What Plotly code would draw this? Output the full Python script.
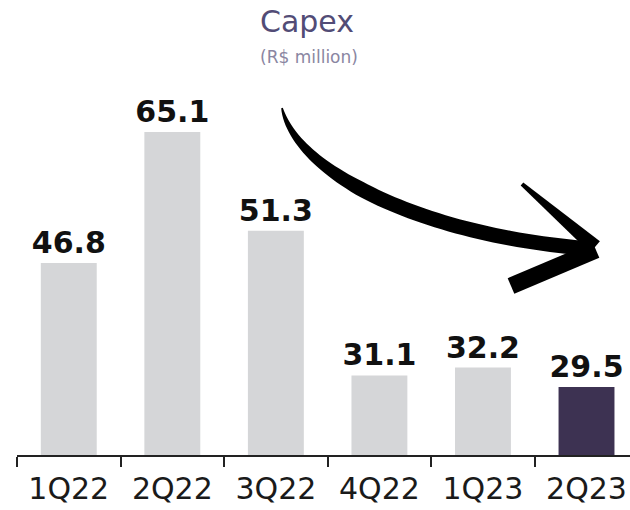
import numpy as np
import plotly.graph_objects as go

# Quarterly capex, R$ million
quarters = ["1Q22", "2Q22", "3Q22", "4Q22", "1Q23", "2Q23"]
capex = [46.8, 65.1, 51.3, 31.1, 32.2, 29.5]
bar_colors = ["#d5d6d8", "#d5d6d8", "#d5d6d8", "#d5d6d8", "#d5d6d8", "#3d3252"]

W, H = 630, 510
ML, MR, MT, MB = 17, 0, 0, 55
PW, PH = W - ML - MR, H - MT - MB

fig = go.Figure(
    go.Bar(
        x=quarters,
        y=capex,
        marker=dict(color=bar_colors, line=dict(width=0)),
        text=[f"{v:.1f}" for v in capex],
        texttemplate="<b>%{text}</b>",
        textposition="outside",
        constraintext="none",
        textfont=dict(family="DejaVu Sans", size=30, color="#111111"),
        cliponaxis=False,
        hoverinfo="skip",
    )
)


def px(x, y):
    """Pixel position -> paper coordinates of the plot area."""
    return (x - ML) / PW, 1 - (y - MT) / PH


def poly_path(points):
    pts = [px(x, y) for x, y in points]
    return "M " + " L ".join(f"{a:.5f},{b:.5f}" for a, b in pts) + " Z"


# Curved brush-stroke arrow pointing down-right
P = np.array([[282, 108], [296, 172], [420, 236], [594, 249]], dtype=float)
t = np.linspace(0, 1, 60)
curve = ((1 - t) ** 3)[:, None] * P[0] + (3 * (1 - t) ** 2 * t)[:, None] * P[1] \
    + (3 * (1 - t) * t ** 2)[:, None] * P[2] + (t ** 3)[:, None] * P[3]
deriv = (3 * (1 - t) ** 2)[:, None] * (P[1] - P[0]) + (6 * (1 - t) * t)[:, None] * (P[2] - P[1]) \
    + (3 * t ** 2)[:, None] * (P[3] - P[2])
normal = np.stack([-deriv[:, 1], deriv[:, 0]], axis=1)
normal /= np.linalg.norm(normal, axis=1)[:, None]
half_w = 0.8 + 6.6 * np.clip(t / 0.45, 0, 1) ** 0.8
left = curve + normal * half_w[:, None]
right = curve - normal * half_w[:, None]
body = list(map(tuple, left)) + list(map(tuple, right[::-1]))

tip = np.array([598.0, 249.0])


def arm(start, end, w0, w1):
    d = end - start
    n = np.array([-d[1], d[0]]) / np.linalg.norm(d)
    return [tuple(start + n * w0), tuple(end + n * w1), tuple(end - n * w1), tuple(start - n * w0)]


upper = arm(np.array([522.0, 184.0]), tip + np.array([-3.0, -2.0]), 2.0, 7.5)
lower = arm(tip + np.array([-2.0, 1.0]), np.array([511.0, 286.0]), 8.5, 8.5)

for shape_pts in (body, upper, lower):
    fig.add_shape(
        type="path",
        path=poly_path(shape_pts),
        xref="paper",
        yref="paper",
        fillcolor="#000000",
        line=dict(width=0),
        layer="above",
    )

fig.add_annotation(
    text="Capex", xref="paper", yref="paper",
    x=px(307, 0)[0], y=px(0, 21)[1], xanchor="center", yanchor="middle",
    showarrow=False, font=dict(family="DejaVu Sans", size=30, color="#524c76"),
)
fig.add_annotation(
    text="(R$ million)", xref="paper", yref="paper",
    x=px(309, 0)[0], y=px(0, 57)[1], xanchor="center", yanchor="middle",
    showarrow=False, font=dict(family="DejaVu Sans", size=17, color="#8a86a2"),
)

fig.update_layout(
    width=W,
    height=H,
    margin=dict(l=ML, r=MR, t=MT, b=MB),
    paper_bgcolor="white",
    plot_bgcolor="white",
    bargap=0.46,
    showlegend=False,
    xaxis=dict(
        type="category",
        range=[-0.5, 5.42],
        showline=True,
        linecolor="#222222",
        linewidth=2,
        ticks="outside",
        tickson="boundaries",
        ticklen=10,
        tickwidth=2,
        tickcolor="#222222",
        ticklabelstandoff=6,
        tickfont=dict(family="DejaVu Sans", size=30, color="#1a1a1a"),
        showgrid=False,
        zeroline=False,
        fixedrange=True,
    ),
    yaxis=dict(
        range=[20, 20 + PH / 7.163],
        visible=False,
        showgrid=False,
        zeroline=False,
        fixedrange=True,
    ),
)

fig.write_html("out.html")
